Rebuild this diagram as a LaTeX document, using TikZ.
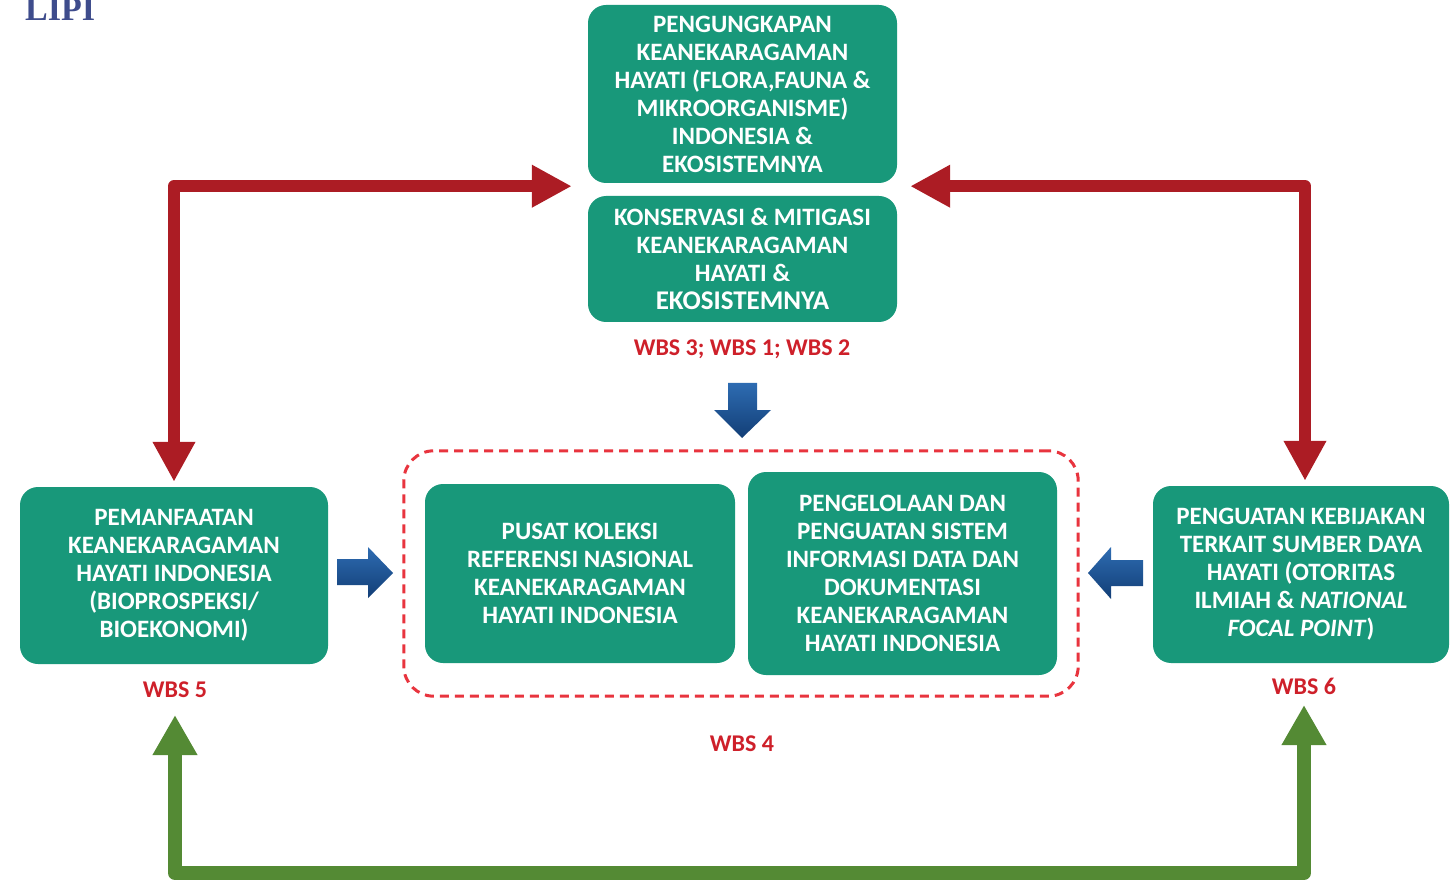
\documentclass[tikz,border=0pt]{standalone}
\usepackage{fontspec}
\setmainfont{Carlito}
\newfontfamily\lipifont{Liberation Serif}
\usetikzlibrary{arrows.meta}
\usetikzlibrary{fit}
\definecolor{mgreen}{RGB}{24,152,122}
\definecolor{mred}{RGB}{172,28,36}
\definecolor{wbsred}{RGB}{206,32,42}
\definecolor{dashred}{RGB}{232,52,62}
\definecolor{arrowgreen}{RGB}{84,138,52}
\definecolor{blightc}{RGB}{46,108,178}
\definecolor{bdarkc}{RGB}{18,62,118}
\definecolor{lipiblue}{RGB}{62,76,140}
\tikzset{box/.style = {rectangle, rounded corners=18pt, fill=mgreen, text=white,
                       align=center, inner sep=0pt,
                       font=\bfseries\fontsize{25}{28}\selectfont},
         wbs/.style = {text=wbsred, font=\bfseries\fontsize{24}{28}\selectfont},
         redlink/.style = {draw=mred, line width=12pt, line join=round,
                           {Triangle[length=40pt,width=40pt]}-{Triangle[length=40pt,width=40pt]}},
         greenlink/.style = {draw=arrowgreen, line width=14pt, line join=round,
                             {Triangle[length=40pt,width=42pt]}-{Triangle[length=40pt,width=42pt]}},
         bluearrow/.style = {top color=blightc, bottom color=bdarkc, draw=none}}

\begin{document}
\begin{tikzpicture}[x=1pt, y=-1pt]
    \useasboundingbox (0, 0) rectangle (1451, 882);

    \node [anchor=base west, inner sep=0pt, text=lipiblue,
           font=\lipifont\bfseries\fontsize{34}{34}\selectfont] (lipi) at (25, 21) {LIPI};

    % top row
    \node [box, minimum width=309pt, minimum height=178pt] (ungkap) at (742.5, 94)
        {PENGUNGKAPAN\\ KEANEKARAGAMAN\\ HAYATI (FLORA,FAUNA \&\\ MIKROORGANISME)\\
         INDONESIA \&\\ EKOSISTEMNYA};
    \node [box, minimum width=309pt, minimum height=126pt] (konservasi) at (742.5, 259)
        {KONSERVASI \& MITIGASI\\ KEANEKARAGAMAN\\ HAYATI \&\\
         {\fontsize{27}{28}\selectfont EKOSISTEMNYA}};
    \node [wbs] (wbs123) at (742, 349) {WBS 3; WBS 1; WBS 2};

    % middle row
    \node [box, minimum width=308pt, minimum height=177pt] (manfaat) at (174, 575.5)
        {PEMANFAATAN\\ KEANEKARAGAMAN\\ HAYATI INDONESIA\\ (BIOPROSPEKSI/\\ BIOEKONOMI)};
    \node [box, minimum width=310pt, minimum height=179pt] (pusat) at (580, 573.5)
        {PUSAT KOLEKSI\\ REFERENSI NASIONAL\\ KEANEKARAGAMAN\\ HAYATI INDONESIA};
    \node [box, minimum width=309pt, minimum height=203pt] (kelola) at (902.5, 573.5)
        {PENGELOLAAN DAN\\ PENGUATAN SISTEM\\ INFORMASI DATA DAN\\ DOKUMENTASI\\
         KEANEKARAGAMAN\\ HAYATI INDONESIA};
    \node [box, minimum width=296pt, minimum height=177pt] (kebijakan) at (1301, 574.5)
        {PENGUATAN KEBIJAKAN\\ TERKAIT SUMBER DAYA\\ HAYATI (OTORITAS\\
         ILMIAH \& \textit{NATIONAL}\\ \textit{FOCAL POINT})};
    \node [draw=dashred, line width=3pt, dash pattern=on 9pt off 6pt,
           rounded corners=30pt, inner sep=21pt, fit=(pusat)(kelola)] (wbs4box) {};

    \node [wbs] (wbs5) at (175, 690) {WBS 5};
    \node [wbs] (wbs4) at (742, 744) {WBS 4};
    \node [wbs] (wbs6) at (1304, 686) {WBS 6};

    % red links to the top boxes
    \draw [redlink, shorten <=5pt, shorten >=16pt]
        (manfaat.north) |- ([yshift=-3pt]ungkap.south west);
    \draw [redlink, shorten <=5pt, shorten >=13pt]
        ([xshift=4pt]kebijakan.north) |- ([yshift=-3pt]ungkap.south east);

    % green link at the bottom
    \draw [greenlink] ([yshift=-25pt]wbs5.center) |- ([yshift=-187pt]wbs6.center)
        -- ([yshift=-19pt]wbs6.center);

    % blue block arrows
    \shade [bluearrow] (728, 383) -- (757, 383) -- (757, 410) -- (771, 410)
        -- (742, 438) -- (714, 410) -- (728, 410) -- cycle;
    \shade [bluearrow] (337, 559) -- (368, 559) -- (368, 547) -- (393, 573)
        -- (368, 598) -- (368, 585) -- (337, 585) -- cycle;
    \shade [bluearrow] (1143, 560) -- (1111, 560) -- (1111, 547) -- (1088, 573)
        -- (1111, 599) -- (1111, 586) -- (1143, 586) -- cycle;
\end{tikzpicture}
\end{document}
